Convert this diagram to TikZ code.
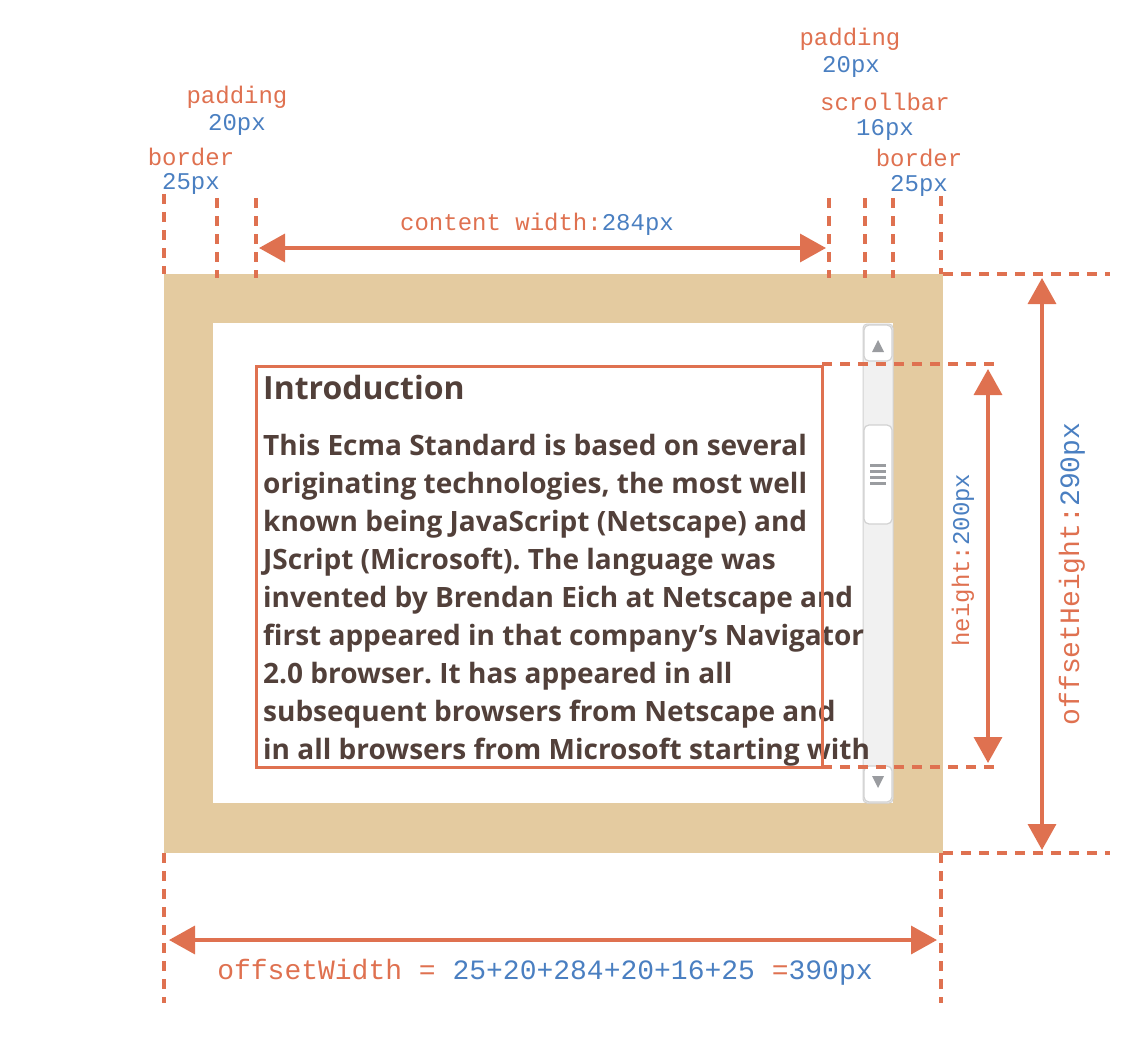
\documentclass[tikz,border=0pt]{standalone}
\usepackage{fontspec}
\setmainfont{Open Sans}
\newfontfamily\codefont{Liberation Mono}
\usetikzlibrary{arrows.meta}
\frenchspacing
\definecolor{orange1}{HTML}{DF7150}
\definecolor{blue1}{HTML}{4A7FC1}
\definecolor{tan1}{HTML}{E4CBA0}
\definecolor{brown1}{HTML}{52403A}
\definecolor{gray1}{HTML}{F1F1F1}
\definecolor{gray2}{HTML}{D2D2D2}
\definecolor{gray3}{HTML}{9A9CA0}
\tikzset{
  guide/.style={draw=orange1, line width=3.5pt, dash pattern=on 10pt off 8pt},
  measure/.style={draw=orange1, line width=3.5pt,
    {Triangle[length=26pt,width=28pt]}-{Triangle[length=26pt,width=28pt]}},
  lbl/.style={font=\codefont\fontsize{24}{28}\selectfont, text=orange1, inner sep=0pt},
  num/.style={lbl, text=blue1},
  biglbl/.style={font=\codefont\fontsize{28}{32}\selectfont, text=orange1, inner sep=0pt},
  para/.style={font=\bfseries\fontsize{28}{38}\selectfont, text=brown1, inner sep=0pt, anchor=base west},
  sbtn/.style={fill=white, draw=gray2, line width=1.2pt, rounded corners=5pt},
}
\begin{document}
\begin{tikzpicture}[x=1pt, y=-1pt]
\useasboundingbox (0,0) rectangle (1144,1038);
% element: border, padding area
\fill[tan1] (164,274) rectangle (943,853);
\fill[white] (213,323) rectangle (893,803);

% scrollbar
\draw[fill=gray1, draw=gray2, line width=1pt, rounded corners=4pt] (863,324) rectangle (893,803);
\draw[sbtn] (864,325) rectangle (892,361);
\fill[gray3] (872,352) -- (884,352) -- (878,340) -- cycle;
\draw[sbtn] (864,425) rectangle (892,524);
\foreach \y in {465,471,477,483}
  \draw[gray3, line width=3pt] (870,\y) -- (886,\y);
\draw[sbtn] (864,766) rectangle (892,802);
\fill[gray3] (872,776) -- (884,776) -- (878,788) -- cycle;

% text of the element
\node[para, font=\bfseries\fontsize{32}{38}\selectfont] (title) at (263,399) {Introduction};
\node[para] (line1) at (263,455) {This Ecma Standard is based on several};
\node[para] (line2) at (263,493) {originating technologies, the most well};
\node[para] (line3) at (263,531) {known being JavaScript (Netscape) and};
\node[para] (line4) at (263,569) {JScript (Microsoft). The language was};
\node[para] (line5) at (263,607) {invented by Brendan Eich at Netscape and};
\node[para] (line6) at (263,645) {first appeared in that company’s Navigator};
\node[para] (line7) at (263,683) {2.0 browser. It has appeared in all};
\node[para] (line8) at (263,721) {subsequent browsers from Netscape and};
\node[para] (line9) at (263,759) {in all browsers from Microsoft starting with};

% content box
\draw[orange1, line width=3pt] (256,366) rectangle (822,767);

% guides on top
\coordinate (bl) at (164,274);  \coordinate (pl) at (217,278);
\coordinate (cl) at (256,278);  \coordinate (cr) at (829,278);
\coordinate (sl) at (865,278);  \coordinate (sr) at (893,278);
\coordinate (br) at (941,274);
\foreach \c in {bl,pl,cl,cr,sl,sr}
  \draw[guide] (\c) ++(0,-80) -- (\c);
\draw[guide] (br) ++(0,-78) -- (br);
\draw[guide] (bl) ++(0,579) -- ++(0,150);
\draw[guide] (br) ++(0,579) -- ++(0,150);
\draw[guide] (943,274) -- (1110,274);
\draw[guide] (943,853) -- (1110,853);
\draw[guide] (822,364) -- (995,364);
\draw[guide] (822,767) -- (995,767);

% measures
\coordinate (cwl) at (259,248);  \coordinate (cwr) at (826,248);
\draw[measure] (cwl) -- (cwr);
\node[lbl] (cw) at (537,224) {content width:\textcolor{blue1}{284px}};
\coordinate (ht) at (988,369);  \coordinate (hb) at (988,763);
\draw[measure] (ht) -- (hb);
\node[lbl, rotate=90] (hlab) at (963,560) {height:\textcolor{blue1}{200px}};
\coordinate (oht) at (1042,278);  \coordinate (ohb) at (1042,850);
\draw[measure] (oht) -- (ohb);
\node[biglbl, rotate=90] (ohlab) at (1072,574) {offsetHeight:\textcolor{blue1}{290px}};
\coordinate (owl) at (169,940);  \coordinate (owr) at (937,940);
\draw[measure] (owl) -- (owr);
\node[biglbl] (owlab) at (545,972) {offsetWidth = \textcolor{blue1}{25+20+284+20+16+25} =\textcolor{blue1}{390px}};

% top labels
\node[lbl] (padl) at (237,97) {padding};
\node[num] (padlv) at (237,125) {20px};
\node[lbl] (bordl) at (191,157) {border};
\node[num] (bordlv) at (191,184) {25px};
\node[lbl] (padr) at (850,39) {padding};
\node[num] (padrv) at (851,67) {20px};
\node[lbl] (scrl) at (885,102) {scrollbar};
\node[num] (scrlv) at (885,130) {16px};
\node[lbl] (bordr) at (919,158) {border};
\node[num] (bordrv) at (919,186) {25px};
\end{tikzpicture}
\end{document}
